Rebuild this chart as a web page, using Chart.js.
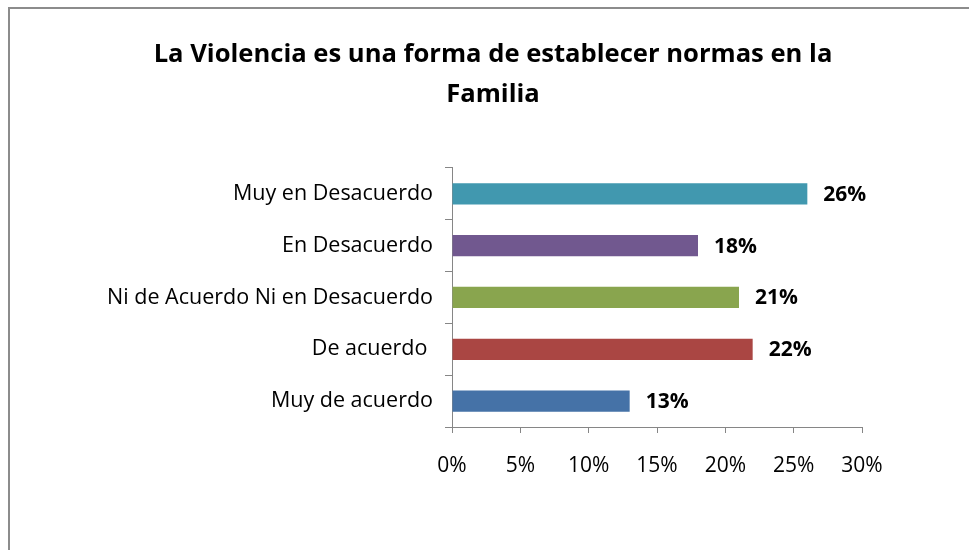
<!DOCTYPE html>
<html>
<head>
<meta charset="utf-8">
<script src="https://cdn.jsdelivr.net/npm/chart.js@4/dist/chart.umd.min.js"></script>
<style>
  html, body { margin: 0; padding: 0; background: #ffffff; overflow: hidden; }
  #wrap { position: absolute; left: 0; top: 0; width: 969px; height: 550px; }
  #frame { position: absolute; left: 8px; top: 7px; width: 980px; height: 560px;
           border-left: 2px solid #8c8c8c; border-top: 2px solid #8c8c8c; box-sizing: border-box; }
  canvas { position: absolute; left: 0; top: 0; }
</style>
</head>
<body>
<div id="wrap">
  <div id="frame"></div>
  <canvas id="c" width="969" height="550"></canvas>
</div>
<script>
const titleLines = ["La Violencia es una forma de establecer normas en la", "Familia"];
const categories = ["Muy en Desacuerdo", "En Desacuerdo", "Ni de Acuerdo Ni en Desacuerdo", "De acuerdo ", "Muy de acuerdo"];
const values = [26, 18, 21, 22, 13];
const barColors = ["#4198AF", "#71588F", "#89A54E", "#AA4643", "#4572A7"];
const xTickValues = [0, 5, 10, 15, 20, 25, 30];

const FONT = "'Open Sans', 'Noto Sans', 'Liberation Sans', sans-serif";

const valueLabels = {
  id: 'valueLabels',
  afterDatasetsDraw(chart) {
    const ctx = chart.ctx;
    const meta = chart.getDatasetMeta(0);
    ctx.save();
    ctx.font = "bold 21px " + FONT;
    ctx.fillStyle = "#000000";
    ctx.textAlign = "left";
    ctx.textBaseline = "middle";
    meta.data.forEach((bar, i) => {
      ctx.fillText(values[i] + "%", bar.x + 16, bar.y + 1);
    });
    ctx.restore();
  }
};

new Chart(document.getElementById('c'), {
  type: 'bar',
  data: {
    labels: categories,
    datasets: [{
      data: values,
      backgroundColor: barColors,
      borderWidth: 0,
      categoryPercentage: 1.0,
      barPercentage: 0.41
    }]
  },
  options: {
    indexAxis: 'y',
    responsive: false,
    animation: false,
    devicePixelRatio: 1,
    layout: { padding: { left: 17, right: 0, top: 0, bottom: 0 } },
    plugins: {
      legend: { display: false },
      tooltip: { enabled: false },
      title: {
        display: true,
        text: titleLines,
        color: "#000000",
        font: { family: FONT, size: 25.6, weight: 'bold', lineHeight: 1.56 },
        padding: { top: 35, bottom: 53 }
      }
    },
    scales: {
      x: {
        min: 0, max: 30,
        afterBuildTicks(scale) { scale.ticks = xTickValues.map(v => ({ value: v })); },
        afterFit(scale) { scale.height = 123; },
        grid: { drawOnChartArea: false, drawTicks: true, tickLength: 6, color: "#868686" },
        border: { display: true, color: "#868686", width: 1 },
        ticks: {
          color: "#000000",
          padding: 20,
          font: { family: FONT, size: 21 },
          callback: v => v + "%"
        }
      },
      y: {
        afterFit(scale) { scale.width = 435; },
        grid: { drawOnChartArea: false, drawTicks: true, tickLength: 7, color: "#868686", offset: true },
        border: { display: true, color: "#868686", width: 1 },
        ticks: {
          color: "#000000",
          padding: 12,
          font: { family: FONT, size: 21.5 }
        }
      },
      y2: {
        type: 'category',
        labels: categories,
        position: 'right',
        afterFit(scale) { scale.width = 107; },
        grid: { display: false },
        border: { display: false },
        ticks: { display: false }
      }
    }
  },
  plugins: [valueLabels]
});
</script>
</body>
</html>
